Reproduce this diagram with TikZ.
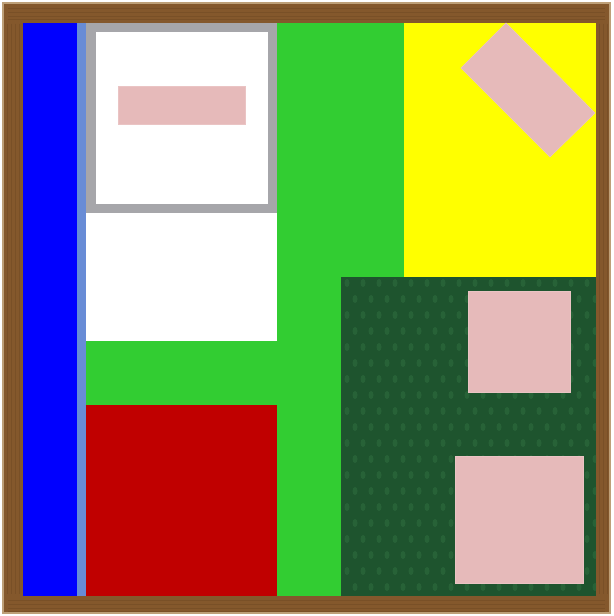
\documentclass[tikz,border=0pt]{standalone}
\begin{document}
\begin{tikzpicture}[x=0.75pt,y=-0.75pt]
\definecolor{wood}{RGB}{132,88,44}
\definecolor{woodedge}{RGB}{190,160,120}
\definecolor{wooddark}{RGB}{105,68,32}
\definecolor{lightblue}{RGB}{104,140,214}
\definecolor{grayframe}{RGB}{166,166,170}
\definecolor{grass}{RGB}{50,205,50}
\definecolor{sun}{RGB}{255,255,0}
\definecolor{deepblue}{RGB}{0,0,255}
\definecolor{darkred}{RGB}{192,0,0}
\definecolor{forest}{RGB}{30,84,46}
\definecolor{forestlight}{RGB}{44,104,60}
\definecolor{rug}{RGB}{230,186,186}
\tikzset{
  rugpiece/.style={fill=rug, draw=rug!85!white, line width=0.4pt}
}
\useasboundingbox (0,0) rectangle (613,616);
% wooden frame
\fill[wood, draw=woodedge, line width=0.8pt] (3,3) rectangle (610,613);
% grain on the frame
\foreach \y in {8,12,16,19} {\draw[wooddark, line width=0.4pt, opacity=0.4] (8,\y) -- (605,\y);}
\foreach \y in {600,604,608,611} {\draw[wooddark, line width=0.4pt, opacity=0.4] (8,\y) -- (605,\y);}
\foreach \x in {7,11,15,19} {\draw[wooddark, line width=0.4pt, opacity=0.4] (\x,24) -- (\x,594);}
\foreach \x in {599,603,607} {\draw[wooddark, line width=0.4pt, opacity=0.4] (\x,24) -- (\x,594);}
% background green
\fill[grass] (23,23) rectangle (596,596);
% blue strip and light blue strip
\fill[deepblue] (23,23) rectangle (77,596);
\fill[lightblue] (77,23) rectangle (86,596);
% gray framed white box
\fill[grayframe] (86,23) rectangle (277,213);
\fill[white] (96,32) rectangle (268,204);
% white block
\fill[white] (86,213) rectangle (277,341);
% red block
\fill[darkred] (86,405) rectangle (277,596);
% yellow block
\fill[sun] (404,23) rectangle (596,277);
% dark green textured block
\fill[forest] (341,277) rectangle (596,596);
\begin{scope}
  \clip (341,277) rectangle (596,596);
  \foreach \i in {0,...,15} {
    \foreach \j in {0,...,19} {
      \pgfmathsetmacro{\px}{347+\i*16+mod(\j,2)*8}
      \pgfmathsetmacro{\py}{283+\j*16}
      \fill[forestlight, opacity=0.7] (\px,\py) ellipse (2.5 and 4);
    }
  }
\end{scope}
% pink pieces
\fill[rugpiece] (118,86) rectangle (245,124);
\fill[rugpiece] (506,23) -- (595,113) -- (550,157) -- (461,68) -- cycle;
\fill[rugpiece] (468,291) rectangle (570,392);
\fill[rugpiece] (455,456) rectangle (583,583);
\end{tikzpicture}
\end{document}
